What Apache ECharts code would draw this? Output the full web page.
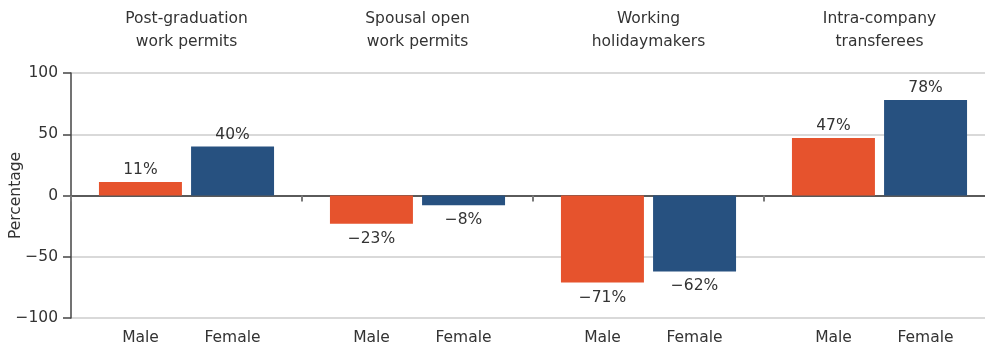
<!DOCTYPE html>
<html>
<head>
<meta charset="utf-8">
<script src="https://cdn.jsdelivr.net/npm/echarts@6/dist/echarts.min.js"></script>
<style>
  html, body { margin: 0; padding: 0; background: #fff; }
  #chart { width: 985px; height: 350px; }
</style>
</head>
<body>
<div id="chart"></div>
<script>
// Permit types (group titles) and change in share by sex, in percent
const groups = [
  'Post-graduation\nwork permits',
  'Spousal open\nwork permits',
  'Working\nholidaymakers',
  'Intra-company\ntransferees'
];
const sexLabels = ['Male', 'Female'];
const maleValues = [11, -23, -71, 47];
const femaleValues = [40, -8, -62, 78];
const yTicks = { min: -100, max: 100, interval: 50 };

const FONT = '"DejaVu Sans", "Open Sans", sans-serif';
const FS = 15.5;
const TEXT = '#333333';
const ORANGE = '#E6532D';
const BLUE = '#275180';

const fmt = v => (v < 0 ? '\u2212' + Math.abs(v) : String(v));

// positive bars get their label above, negative bars below
function barData(values) {
  return values.map(v => ({
    value: v,
    label: v < 0 ? { position: 'bottom', distance: 7 } : { position: 'top', distance: 4 }
  }));
}

function barSeries(name, values, color) {
  return {
    name: name,
    type: 'bar',
    xAxisIndex: 1,
    data: barData(values),
    barGap: '11%',
    barCategoryGap: '24.2%',
    itemStyle: { color: color },
    label: {
      show: true,
      fontFamily: FONT,
      fontSize: FS,
      color: TEXT,
      formatter: p => fmt(p.value) + '%'
    },
    emphasis: { disabled: true }
  };
}

const chart = echarts.init(document.getElementById('chart'), null, { renderer: 'canvas' });
chart.setOption({
  animation: false,
  textStyle: { fontFamily: FONT },
  grid: {
    left: 71, right: -10, top: 73, bottom: 32,
    containLabel: false,
    outerBoundsMode: 'none'
  },
  xAxis: [
    {
      // group titles above the plot
      type: 'category',
      data: groups,
      position: 'top',
      axisLine: { show: false, onZero: false },
      axisTick: { show: false },
      axisLabel: {
        interval: 0,
        margin: 20,
        fontFamily: FONT,
        fontSize: FS,
        lineHeight: 23,
        color: TEXT
      }
    },
    {
      // zero baseline with group separators
      type: 'category',
      data: groups,
      position: 'bottom',
      axisLine: { show: true, onZero: true, onZeroAxisIndex: 0, lineStyle: { color: '#5a5a5a', width: 2 } },
      axisTick: { show: true, interval: 0, length: 6, inside: false, lineStyle: { color: '#7a7a7a', width: 2 } },
      axisLabel: { show: false }
    },
    {
      // Male / Female labels under each pair of bars
      type: 'category',
      data: groups,
      position: 'bottom',
      offset: 0,
      axisLine: { show: false, onZero: false },
      axisTick: { show: false },
      axisLabel: {
        interval: 0,
        margin: 12,
        formatter: () => '{s|' + sexLabels[0] + '}{s|' + sexLabels[1] + '}',
        rich: {
          s: { width: 92, align: 'center', fontFamily: FONT, fontSize: FS, color: TEXT }
        }
      }
    }
  ],
  yAxis: {
    type: 'value',
    min: yTicks.min,
    max: yTicks.max,
    interval: yTicks.interval,
    name: 'Percentage',
    nameLocation: 'middle',
    nameGap: 55,
    nameMoveOverlap: false,
    nameRotate: 90,
    nameTextStyle: { fontFamily: FONT, fontSize: FS, color: TEXT, verticalAlign: 'middle' },
    axisLine: { show: true, onZero: false, lineStyle: { color: '#444444', width: 1.5 } },
    axisTick: { show: true, length: 8, lineStyle: { color: '#444444', width: 1.5 } },
    axisLabel: {
      margin: 13,
      fontFamily: FONT,
      fontSize: FS,
      color: TEXT,
      formatter: v => fmt(v)
    },
    splitLine: { show: true, lineStyle: { color: '#cccccc', width: 1.5 } }
  },
  series: [
    barSeries('Male', maleValues, ORANGE),
    barSeries('Female', femaleValues, BLUE)
  ]
});
</script>
</body>
</html>
